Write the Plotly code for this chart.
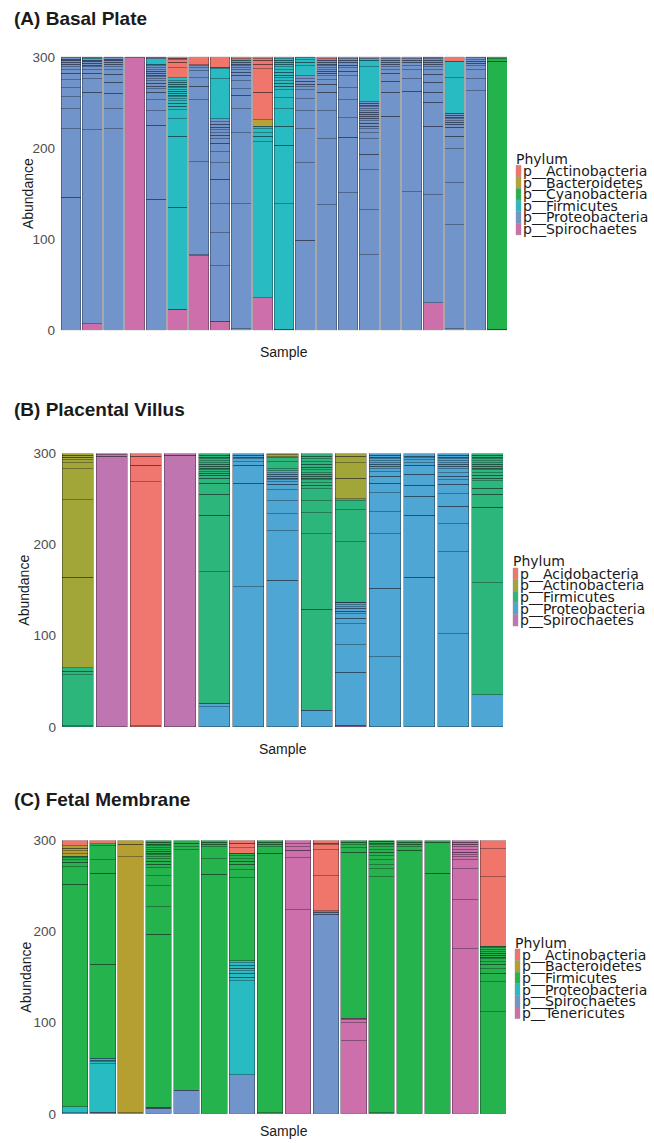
import plotly.graph_objects as go

W, H = 654, 1143
FONT = "Liberation Sans, Arial, sans-serif"
LEG_FONT = "DejaVu Sans, Liberation Sans, sans-serif"

# ---------------- Panel A: Basal Plate ----------------
basal_phyla = ["p__Actinobacteria", "p__Bacteroidetes", "p__Cyanobacteria",
               "p__Firmicutes", "p__Proteobacteria", "p__Spirochaetes"]
basal_codes = ["a", "b", "c", "f", "p", "s"]
basal_colors = ["#F0756A", "#BAA232", "#24B24C", "#29BBC2", "#7194CB", "#CC6FAA"]
basal_bars = [
    [("p",146),("p",75),("p",22),("p",13),("p",10),("p",9),("p",7),("p",4),("p",3),("p",3),("p",2),("p",2),("p",1.5),("p",1.5),("p",1)],
    [("s",7),("p",213),("p",41),("p",15),("p",6),("p",4),("p",3),("p",2),("p",2),("p",2),("p",1.5),("p",1.5),("f",1.2),("p",0.8)],
    [("p",221),("p",22),("p",17),("p",12),("p",9),("p",5),("p",3),("p",3),("p",2),("p",2),("p",1.5),("p",1.5),("p",1)],
    [("s",299),("s",1)],
    [("p",144),("p",81),("p",16),("p",12),("p",8),("p",4),("p",3),("p",3),("p",3),("p",2),("p",2),("p",2),("p",2),("p",2),("p",2),("p",2),("p",2),("f",2),("f",6),("p",1),("p",1)],
    [("s",23),("f",112),("f",78),("f",19),("f",10),("f",4),("f",3),("f",3),("f",2),("f",2),("f",2),("f",2),("f",2),("f",2),("f",2),("f",2),("f",2),("f",2),("f",2),("f",3),("a",11),("a",6),("a",3),("a",1.5),("a",1.5)],
    [("s",82),("s",1),("p",102),("p",68),("p",15),("p",9),("p",8),("p",3),("p",2),("p",1.5),("a",8.5)],
    [("s",10),("p",61),("p",36),("p",32),("p",27),("p",18),("p",12),("p",9),("p",5),("p",4),("p",3),("p",3),("p",3),("p",3),("p",3),("p",3),("f",44),("f",11),("f",1.5),("a",11.5)],
    [("s",2),("p",137),("p",78),("p",26),("p",15),("p",7),("p",9),("p",6),("p",3),("p",3),("p",2),("p",2),("p",2),("p",2),("f",2),("p",2),("a",2)],
    [("s",36),("f",171),("f",6),("f",4),("f",4),("f",3),("b",7),("a",30),("a",26),("a",5),("a",4),("a",2),("a",2)],
    [("p",1),("f",138),("f",64),("f",21),("f",19),("f",12),("f",9),("f",4),("f",3),("f",3),("f",3),("f",3),("f",3),("f",3),("f",3),("f",3),("f",2),("f",2),("f",2),("f",2)],
    [("p",99),("p",85),("p",37),("p",20),("p",13),("p",10),("p",3),("p",3),("p",3),("p",3),("p",3),("f",11),("f",4),("f",3),("f",2),("p",1)],
    [("p",138),("p",72),("p",31),("p",20),("p",9),("p",5),("p",4),("p",3),("p",2),("p",2),("p",2),("p",2),("p",2),("p",2),("p",2),("p",2),("a",2)],
    [("p",151),("p",61),("p",21),("p",20),("p",13),("p",13),("p",5),("p",4),("p",3),("p",3),("p",2),("p",2),("p",2)],
    [("p",83),("p",49),("p",44),("p",17),("p",17),("p",7),("p",4),("p",3),("p",3),("p",3),("p",2.5),("p",2.5),("p",2),("p",2),("p",2),("p",2),("p",2),("p",2),("p",2),("p",2),("f",38),("f",7),("f",2),("p",2)],
    [("p",235),("p",26),("p",12),("p",9),("p",4),("p",3),("p",3),("p",2),("p",2),("p",2),("p",2)],
    [("p",152),("p",110),("p",14),("p",10),("p",4),("p",4),("p",2),("p",2),("p",2)],
    [("s",30),("p",119),("p",75),("p",26),("p",11),("p",11),("p",9),("p",5),("p",3),("p",3),("p",2),("p",2),("p",2),("p",1),("a",1)],
    [("s",1.5),("p",114.5),("p",46),("p",37),("p",14),("p",10),("p",3),("p",2),("p",2),("p",2),("p",2),("p",2),("p",2),("f",39),("f",18),("a",5)],
    [("p",263),("p",13),("p",10),("p",4),("p",3),("p",2),("p",2),("p",2),("p",1)],
    [("c",1),("c",294),("c",3),("c",2)],
]

# ---------------- Panel B: Placental Villus ----------------
villus_phyla = ["p__Acidobacteria", "p__Actinobacteria", "p__Firmicutes",
                "p__Proteobacteria", "p__Spirochaetes"]
villus_codes = ["c", "t", "f", "p", "s"]
villus_colors = ["#F07670", "#A2A537", "#2CB67C", "#4EA6D4", "#BF75B0"]
villus_bars = [
    [("f",1),("f",56),("f",4),("f",4),("t",99),("t",85),("t",34),("t",7),("t",3),("t",3),("t",2),("t",2)],
    [("s",297),("s",1.5),("s",1.5)],
    [("c",1),("c",268),("c",18),("c",10),("c",3)],
    [("s",298),("s",2)],
    [("p",22),("p",4),("f",144),("f",62),("f",23),("f",12),("f",6),("f",3),("f",2),("f",2),("f",2),("f",2),("f",2),("f",2),("f",2),("f",2),("f",2),("f",2),("f",2),("f",2)],
    [("p",154),("p",113),("p",20),("p",4),("p",3),("p",2),("p",2),("p",2)],
    [("p",161),("p",54),("p",19),("p",14),("p",12),("p",6),("p",3),("p",2),("p",2),("p",2),("p",2),("p",2),("p",2),("f",2),("f",8),("f",4),("f",1.5),("t",2),("t",1.5)],
    [("p",18),("f",111),("f",83),("f",23),("f",13),("f",13),("f",4),("f",3),("f",3),("f",2),("f",2),("f",2),("f",2),("f",3),("f",3),("f",3),("f",3),("f",3),("f",3),("f",3)],
    [("s",2),("p",58),("p",30),("p",23),("p",6),("p",5),("p",3),("p",3),("p",2),("p",2),("p",2),("p",1),("f",66),("f",35),("f",10),("f",2),("t",23),("t",17),("t",7),("t",3)],
    [("p",77),("p",75),("p",60),("p",24),("p",21),("p",10),("p",8),("p",5),("p",3),("p",3),("p",2),("p",2),("p",2),("p",2),("p",2),("p",2),("p",2)],
    [("p",164),("p",68),("p",21),("p",12),("p",12),("p",10),("p",3),("p",3),("p",2),("p",2),("p",3)],
    [("p",102),("p",90),("p",31),("p",19),("p",14),("p",10),("p",5),("p",4),("p",4),("p",4),("p",3),("p",2),("p",2),("p",2),("p",2),("p",2),("p",2),("p",2)],
    [("p",35),("f",123),("f",83),("f",14),("f",7),("f",8),("f",3),("f",3),("f",3),("f",3),("f",2),("f",2),("f",2),("f",2),("f",2),("f",2),("f",2),("f",2),("f",2)],
]

# ---------------- Panel C: Fetal Membrane ----------------
membrane_phyla = ["p__Actinobacteria", "p__Bacteroidetes", "p__Firmicutes",
                  "p__Proteobacteria", "p__Spirochaetes", "p__Tenericutes"]
membrane_codes = ["a", "b", "f", "p", "s", "t"]
membrane_colors = ["#F0756A", "#B59F30", "#24B34C", "#29BBC2", "#7194CB", "#CC6FAA"]
membrane_bars = [
    [("p",1),("p",7),("f",244),("f",19),("f",5),("f",3),("f",2),("f",1.5),("b",3),("b",3),("b",3),("b",2.5),("a",6)],
    [("s",2),("p",53),("p",2),("p",2),("p",2),("f",103),("f",100),("f",15),("f",15),("f",2.5),("a",3.5)],
    [("b",1),("b",281),("b",14),("b",4)],
    [("s",6),("f",1),("f",190),("f",30),("f",23),("f",11),("f",9),("f",4),("f",3),("f",3),("f",2),("f",2),("f",2),("f",2),("f",2),("f",2),("f",2),("f",2),("f",2),("f",2)],
    [("s",26),("f",264),("f",3),("f",4),("f",3)],
    [("f",263),("f",17),("f",13),("f",3),("f",2),("f",2)],
    [("s",43),("p",103),("p",4),("p",4),("p",3),("p",3),("p",3),("p",3),("p",2),("f",91),("f",9),("f",6),("f",3),("f",3),("f",3),("f",3),("a",6),("a",5),("a",3)],
    [("f",1),("f",285),("f",7),("f",3),("f",2),("f",2)],
    [("t",224),("t",57),("t",8),("t",4),("t",3.5),("t",3.5)],
    [("s",219),("s",2),("f",2),("a",38),("a",29),("a",5),("a",2),("a",3)],
    [("t",80),("t",20),("t",3),("t",2),("f",182),("f",5),("f",3),("f",3),("f",2)],
    [("f",1),("f",259),("f",9),("f",4),("f",6),("f",4),("f",4),("f",3),("f",3),("f",2),("f",2),("f",2),("f",1)],
    [("f",289),("f",4),("f",3),("f",2),("f",2)],
    [("f",264),("f",34),("f",2)],
    [("t",181),("t",54),("t",34),("t",10),("t",3),("t",2),("t",3),("t",3),("t",3),("t",2.5),("t",2.5),("t",2)],
    [("f",112),("f",33),("f",9),("f",5),("f",5),("f",3),("f",3),("f",2),("f",2),("f",2),("f",2),("f",2),("f",2),("f",2),("a",76),("a",31),("a",9)],
]

y_ticks = [0, 100, 200, 300]

# target positions (pixels in the final picture) for each panel
panels = [
    dict(title="(A) Basal Plate", phyla=basal_phyla, codes=basal_codes, colors=basal_colors,
         bars=basal_bars, x0=61, x1=507, ytop=57.7, ybot=331, width=0.93,
         title_y=19.5, sample_y=352.5, ab_x=27.5, leg_x=516, leg_title_y=159.5, leg_y0=171.8),
    dict(title="(B) Placental Villus", phyla=villus_phyla, codes=villus_codes, colors=villus_colors,
         bars=villus_bars, x0=62, x1=503, ytop=454, ybot=727.3, width=0.91,
         title_y=410, sample_y=749, ab_x=24.5, leg_x=513, leg_title_y=562, leg_y0=574.3),
    dict(title="(C) Fetal Membrane", phyla=membrane_phyla, codes=membrane_codes, colors=membrane_colors,
         bars=membrane_bars, x0=62, x1=506, ytop=840.7, ybot=1114, width=0.92,
         title_y=800, sample_y=1131, ab_x=26.5, leg_x=515, leg_title_y=943, leg_y0=955),
]

LEG_STEP = 11.6 * 1.014
PAGE_PAD = 8.0
PAGE_SCALE = (H + 2 * PAGE_PAD) / H  # page is shown with an 8px band above/below, squeezed to fit


def px_x(x):
    return x / W


def px_y(y):
    # convert a target picture row into a paper fraction of the figure
    fig_y = y * PAGE_SCALE - PAGE_PAD
    fig_y = min(max(fig_y, 0), H)
    return (H - fig_y) / H


fig = go.Figure()
annotations = []
shapes = []
layout_axes = {}

for i, p in enumerate(panels):
    sfx = "" if i == 0 else str(i + 1)
    xa, ya = "x" + sfx, "y" + sfx
    cmap = dict(zip(p["codes"], p["colors"]))
    n = len(p["bars"])
    kmax = max(len(b) for b in p["bars"])
    for k in range(kmax):
        xs, ys, cs = [], [], []
        for j, bar in enumerate(p["bars"]):
            if k < len(bar):
                code, val = bar[k]
                xs.append(j)
                ys.append(val)
                cs.append(cmap[code])
        fig.add_trace(go.Bar(
            x=xs, y=ys, xaxis=xa, yaxis=ya, width=p["width"],
            marker=dict(color=cs, line=dict(color="rgba(25,25,35,0.55)", width=0.7)),
            showlegend=False, hoverinfo="skip",
        ))
    hw = p["width"] / 2
    layout_axes["xaxis" + sfx] = dict(
        domain=[px_x(p["x0"]), px_x(p["x1"])], range=[-hw, n - 1 + hw],
        showgrid=False, zeroline=False, showline=False, showticklabels=False,
        ticks="", anchor=ya, fixedrange=True)
    layout_axes["yaxis" + sfx] = dict(
        domain=[px_y(p["ybot"]), px_y(p["ytop"])], range=[0, 300],
        tickvals=y_ticks, ticktext=[str(v) for v in y_ticks],
        showgrid=False, zeroline=False, showline=False, ticks="",
        ticklabelstandoff=5,
        tickfont=dict(family=FONT, size=13.5, color="#4D4D4D"),
        anchor=xa, fixedrange=True)

    # panel title
    annotations.append(dict(
        text="<b>" + p["title"] + "</b>", x=px_x(12), y=px_y(p["title_y"]),
        xref="paper", yref="paper", xanchor="left", yanchor="middle",
        showarrow=False, font=dict(family=FONT, size=19, color="#1A1A1A")))
    # axis titles
    annotations.append(dict(
        text="Sample", x=px_x((p["x0"] + p["x1"]) / 2), y=px_y(p["sample_y"]),
        xref="paper", yref="paper", xanchor="center", yanchor="middle",
        showarrow=False, font=dict(family=FONT, size=14, color="#1A1A1A")))
    annotations.append(dict(
        text="Abundance", x=px_x(p["ab_x"]), y=px_y((p["ytop"] + p["ybot"]) / 2),
        xref="paper", yref="paper", xanchor="center", yanchor="middle", textangle=-90,
        showarrow=False, font=dict(family=FONT, size=14, color="#1A1A1A")))
    # legend (drawn manually to match the tight key spacing of the original)
    annotations.append(dict(
        text="Phylum", x=px_x(p["leg_x"] - 2), y=px_y(p["leg_title_y"]),
        xref="paper", yref="paper", xanchor="left", yanchor="middle",
        showarrow=False, font=dict(family=LEG_FONT, size=14, color="#1A1A1A")))
    for e, (name, col) in enumerate(zip(p["phyla"], p["colors"])):
        cy = p["leg_y0"] + e * 11.6
        shapes.append(dict(
            type="rect", xref="paper", yref="paper",
            x0=px_x(p["leg_x"]), x1=px_x(p["leg_x"] + 5),
            y0=px_y(cy + 5.8), y1=px_y(cy - 5.8),
            fillcolor=col, line=dict(color="rgba(150,150,150,0.8)", width=0.5)))
        annotations.append(dict(
            text=name, x=px_x(p["leg_x"] + 5), y=px_y(cy),
            xref="paper", yref="paper", xanchor="left", yanchor="middle",
            showarrow=False, font=dict(family=LEG_FONT, size=14, color="#1A1A1A")))

fig.update_layout(
    width=W, height=H, margin=dict(l=0, r=0, t=0, b=0), autosize=False,
    barmode="stack", paper_bgcolor="white", plot_bgcolor="white",
    showlegend=False, hovermode=False, annotations=annotations, shapes=shapes,
    font=dict(family=FONT),
    **layout_axes,
)

fig.write_html(
    "out.html",
    config={"displayModeBar": False},
    post_script="document.body.style.margin='0px';",
)
